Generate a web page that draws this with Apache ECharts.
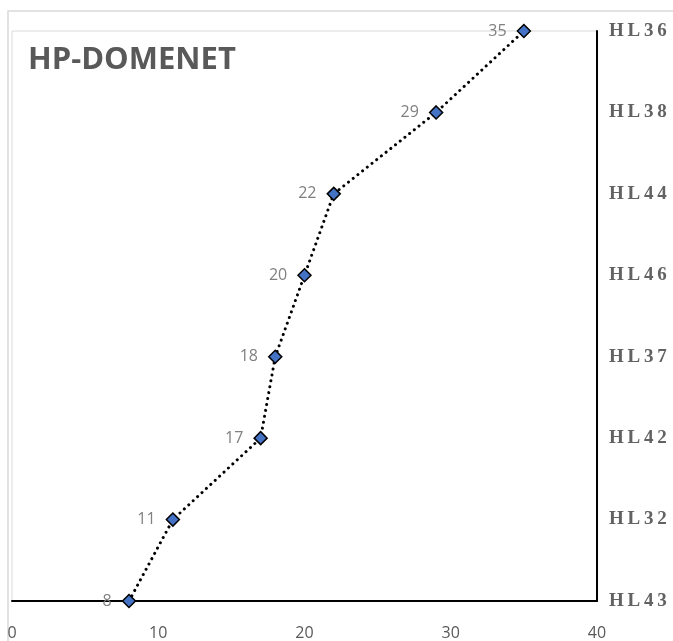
<!DOCTYPE html>
<html>
<head>
<meta charset="utf-8">
<script src="https://cdn.jsdelivr.net/npm/echarts@6/dist/echarts.min.js"></script>
<style>
  html, body { margin: 0; padding: 0; background: #fff; }
  #chart { width: 673px; height: 641px; }
</style>
</head>
<body>
<div id="chart"></div>
<script>
// Sites, bottom to top
const sites = ['HL43', 'HL32', 'HL42', 'HL37', 'HL46', 'HL44', 'HL38', 'HL36'];
// Value for each site
const values = [8, 11, 17, 18, 20, 22, 29, 35];
// Horizontal scale
const xTicks = [0, 10, 20, 30, 40];

const chart = echarts.init(document.getElementById('chart'), null, { renderer: 'canvas' });

const points = sites.map((s, i) => [values[i], s]);

chart.setOption({
  animation: false,
  backgroundColor: '#ffffff',
  title: {
    text: 'HP-DOMENET',
    left: 23,
    top: 40,
    textStyle: {
      fontFamily: '"Open Sans", sans-serif',
      fontWeight: 'bold',
      fontSize: 31,
      color: '#595959'
    }
  },
  graphic: [{
    type: 'rect',
    z: -1,
    shape: { x: 8, y: 11, width: 700, height: 700 },
    style: { fill: 'none', stroke: '#d9d9d9', lineWidth: 1.5 }
  }],
  grid: {
    left: 12, right: 76, top: 31, bottom: 38,
    show: true, borderColor: '#d9d9d9', borderWidth: 1, backgroundColor: 'transparent'
  },
  xAxis: {
    type: 'value',
    min: xTicks[0],
    max: xTicks[xTicks.length - 1],
    interval: xTicks[1] - xTicks[0],
    axisLine: { show: true, onZero: false, lineStyle: { color: '#000', width: 2 } },
    axisTick: { show: false },
    splitLine: { show: false },
    axisLabel: {
      margin: 24,
      color: '#595959',
      fontSize: 16,
      fontFamily: '"Open Sans", sans-serif'
    }
  },
  yAxis: {
    type: 'category',
    position: 'right',
    data: sites,
    boundaryGap: false,
    axisLine: { show: true, onZero: false, lineStyle: { color: '#000', width: 2 } },
    axisTick: { show: false },
    splitLine: { show: false },
    axisLabel: {
      margin: 12,
      color: '#626262',
      fontSize: 19,
      fontWeight: 'bold',
      fontFamily: '"Liberation Serif", serif',
      formatter: (v) => v.split('').join('\u2009')
    }
  },
  series: [{
    type: 'line',
    data: points,
    symbol: 'diamond',
    symbolSize: 13,
    itemStyle: { color: '#4472c4', borderColor: '#000', borderWidth: 1.5 },
    lineStyle: { color: '#000', width: 3, type: [0.01, 6], cap: 'round' },
    label: {
      show: true,
      position: 'left',
      distance: 10,
      color: '#808080',
      fontSize: 16,
      fontFamily: '"Open Sans", sans-serif',
      formatter: (p) => p.value[0]
    },
    z: 3
  }]
});
</script>
</body>
</html>
